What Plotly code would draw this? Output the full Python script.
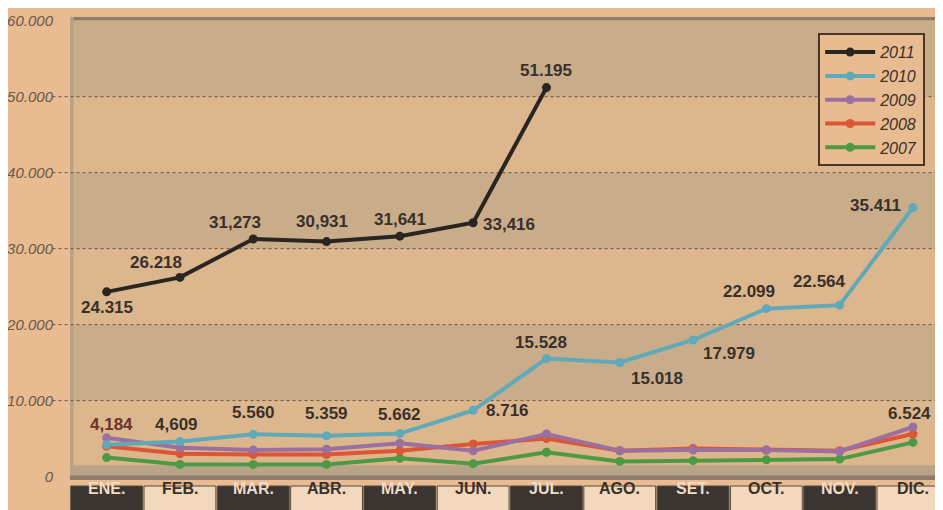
import plotly.graph_objects as go

months = ["ENE.", "FEB.", "MAR.", "ABR.", "MAY.", "JUN.", "JUL.", "AGO.", "SET.", "OCT.", "NOV.", "DIC."]
years = ["2011", "2010", "2009", "2008", "2007"]

v2011 = [24315, 26218, 31273, 30931, 31641, 33416, 51195]
v2010 = [4184, 4609, 5560, 5359, 5662, 8716, 15528, 15018, 17979, 22099, 22564, 35411]
v2009 = [5100, 3800, 3500, 3600, 4400, 3400, 5600, 3400, 3500, 3500, 3300, 6524]
v2008 = [4000, 3000, 2900, 2900, 3400, 4300, 5000, 3400, 3700, 3500, 3400, 5600]
v2007 = [2500, 1600, 1600, 1600, 2400, 1700, 3200, 2000, 2100, 2200, 2300, 4500]

labels2011 = ["24.315", "26.218", "31,273", "30,931", "31,641", "33,416", "51.195"]
labels2010 = ["4,184", "4,609", "5.560", "5.359", "5.662", "8.716", "15.528",
              "15.018", "17.979", "22.099", "22.564", "35.411"]
labels2009 = {11: "6.524"}

y_ticks = [0, 10000, 20000, 30000, 40000, 50000, 60000]
y_ticktext = ["0", "10.000", "20.000", "30.000", "40.000", "50.000", "60.000"]

# styling (pixel offsets for value labels)
off2011 = [(0, -16), (-24, 15), (-18, 16), (-5, 20), (0, 17), (36, -2), (0, 17)]
off2010 = [(5, 20), (-3, 17), (0, 22), (0, 22), (0, 19), (34, 0), (-5, 16),
           (37, -16), (36, -14), (-17, 17), (-20, 24), (-37, 2)]
off2009 = {11: (-3, 14)}

colors = {"2011": "#2a2520", "2010": "#5fa9b9", "2009": "#9b6f9f",
          "2008": "#dc5636", "2007": "#4e9a44"}
series = {"2011": v2011, "2010": v2010, "2009": v2009, "2008": v2008, "2007": v2007}

PAPER = "#e8bc90"
LIGHT = "#dcb78d"
GRAY = "#c9ad8a"
TXT = "#3a302a"
LABEL_FONT = "Liberation Sans Narrow, Arial Narrow, Liberation Sans, sans-serif"

fig = go.Figure()
for yr in reversed(years):
    vals = series[yr]
    fig.add_trace(go.Scatter(
        x=list(range(len(vals))), y=vals, name=yr, mode="lines+markers",
        line=dict(color=colors[yr], width=4),
        marker=dict(color=colors[yr], size=9),
    ))

ann = []
def add_labels(vals, labels, offs, color=TXT):
    for i, t in (labels.items() if isinstance(labels, dict) else enumerate(labels)):
        dx, dy = offs[i]
        ann.append(dict(x=i, y=vals[i], xref="x", yref="y", text=t, showarrow=False,
                        xshift=dx, yshift=dy,
                        font=dict(family=LABEL_FONT, size=17, color=color, weight="bold")))

add_labels(v2011, labels2011, off2011)
add_labels(v2010, labels2010, off2010)
ann[7]["font"]["color"] = "#6a3426"
add_labels(v2009, labels2009, off2009)

shapes = []
ymax = 60490
# alternating bands
for k in range(len(y_ticks) - 1):
    if k % 2 == 1:
        shapes.append(dict(type="rect", xref="paper", yref="y", x0=0, x1=1,
                           y0=y_ticks[k], y1=(ymax if k == 5 else y_ticks[k + 1]),
                           fillcolor=GRAY, line_width=0, layer="below"))
# top shadow
shapes.append(dict(type="rect", xref="paper", yref="paper", x0=0, x1=1, y0=0.993, y1=1,
                   fillcolor="#8d7c68", line_width=0, layer="below"))
# left edge
shapes.append(dict(type="rect", xref="paper", yref="paper", x0=0, x1=0.004, y0=0, y1=1,
                   fillcolor="#b8a186", line_width=0, layer="below"))
# floor
shapes.append(dict(type="rect", xref="paper", yref="y", x0=0, x1=1, y0=-450, y1=1500,
                   fillcolor="#b9a48a", line_width=0, layer="below"))
shapes.append(dict(type="rect", xref="paper", yref="y", x0=0, x1=1, y0=-450, y1=150,
                   fillcolor="#8f7d69", line_width=0, layer="below"))
# dotted gridlines with leaders
for v in y_ticks[1:-1]:
    shapes.append(dict(type="line", xref="paper", yref="y", x0=-0.02, x1=1, y0=v, y1=v,
                       line=dict(color="#6e5540", width=1, dash="dot"), layer="below"))

# month boxes
for i, m in enumerate(months):
    dark = (i % 2 == 0)
    shapes.append(dict(type="rect", xref="x", yref="paper", x0=i - 0.49, x1=i + 0.49,
                       y0=-0.066, y1=-0.013,
                       fillcolor="#3a3530" if dark else "#f2d8bc",
                       line=dict(color="#5a4a3c", width=1)))
    ann.append(dict(x=i, y=-0.04, xref="x", yref="paper", text=m, showarrow=False,
                    font=dict(family=LABEL_FONT, size=16, weight="bold",
                              color="#f2dcc4" if dark else "#3a302a")))

fig.update_layout(
    width=935, height=502,
    margin=dict(l=62, r=0, t=9, b=30, autoexpand=False),
    paper_bgcolor=PAPER, plot_bgcolor=LIGHT,
    showlegend=True,
    legend=dict(x=0.857, y=0.965, xanchor="left", yanchor="top",
                bgcolor=PAPER, bordercolor="#4a3526", borderwidth=2,
                traceorder="reversed", itemwidth=50, tracegroupgap=0,
                font=dict(family="Liberation Sans, Arial, sans-serif", size=16,
                          color=TXT, style="italic")),
    xaxis=dict(range=[-0.5, 11.41], showgrid=False, zeroline=False, automargin=False,
               showticklabels=False, ticks="", fixedrange=True),
    yaxis=dict(range=[-450, ymax], tickvals=y_ticks, ticktext=y_ticktext, automargin=False,
               showgrid=False, zeroline=False, ticks="", ticklabelstandoff=16,
               tickfont=dict(family="Liberation Sans, Arial, sans-serif", size=15,
                             color="#6b5848", style="italic")),
    shapes=shapes, annotations=ann,
)

fig.write_html("out.html")
